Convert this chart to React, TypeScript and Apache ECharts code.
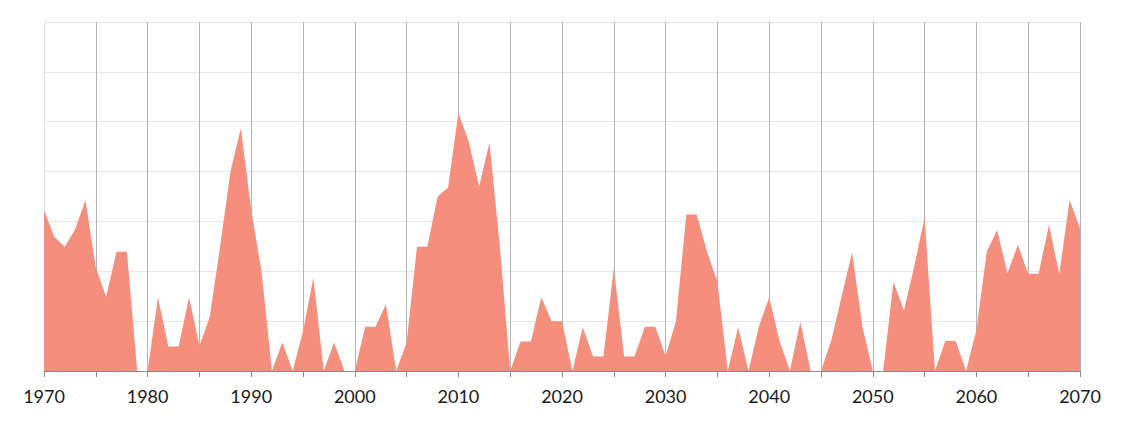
import React, { useEffect, useRef } from "react";
import * as echarts from "echarts";

const startYear = 1970;
const endYear = 2070;
const years: string[] = [];
for (let y = startYear; y <= endYear; y++) years.push(String(y));

const values: number[] = [
  // 1970-1979
  32.3, 26.9, 24.9, 28.4, 34.3, 20.7, 14.9, 23.9, 23.9, 0,
  // 1980-1989
  0, 14.8, 4.9, 4.9, 14.8, 5, 10.9, 25, 40, 48.7,
  // 1990-1999
  32.3, 19.9, 0, 5.7, 0, 7.9, 18.7, 0, 5.7, 0,
  // 2000-2009
  0, 8.9, 8.9, 13.4, 0, 5.7, 24.9, 24.9, 35, 36.8,
  // 2010-2019
  51.8, 46, 37, 45.8, 25, 0, 5.9, 5.9, 14.8, 10,
  // 2020-2029
  10, 0, 8.8, 2.9, 2.9, 20.6, 2.9, 2.9, 8.9, 8.9,
  // 2030-2039
  3, 10, 31.4, 31.4, 23.9, 17.9, 0, 8.8, 0, 8.9,
  // 2040-2049
  14.8, 6, 0, 9.9, 0, 0, 6.2, 15, 23.8, 8.9,
  // 2050-2059
  0, 0, 17.9, 12.1, 21, 30.8, 0, 6, 6, 0,
  // 2060-2070
  8.2, 23.9, 28.3, 19.6, 25.3, 19.5, 19.5, 29.3, 19.5, 34.3, 28.6,
];

const yMax = 70;
const yStep = 10;

export default function App() {
  const ref = useRef<HTMLDivElement>(null);
  useEffect(() => {
    document.body.style.margin = "0";
    if (!ref.current) return;
    const chart = echarts.init(ref.current, undefined, { renderer: "svg" });
    const splitColors: string[] = [];
    for (let i = 0; i < 21; i++) splitColors.push(i === 0 ? "#e3e3e3" : "#b4b4b4");
    chart.setOption({
      animation: false,
      backgroundColor: "#ffffff",
      grid: { left: 44, right: 43, top: 22, bottom: 52, containLabel: false },
      xAxis: {
        type: "category",
        data: years,
        boundaryGap: false,
        axisLine: { show: true, lineStyle: { color: "#8a8a8a", width: 1 } },
        axisTick: { show: true, interval: 4, length: 6, lineStyle: { color: "#8a8a8a" } },
        axisLabel: {
          interval: 9,
          color: "#1a1a1a",
          fontFamily: "Lato",
          fontSize: 18,
          margin: 16,
        },
        splitLine: { show: true, interval: 4, lineStyle: { color: splitColors, width: 1 } },
      },
      yAxis: {
        type: "value",
        min: 0,
        max: yMax,
        interval: yStep,
        axisLine: { show: false },
        axisTick: { show: false },
        axisLabel: { show: false },
        splitLine: { show: true, lineStyle: { color: "#e6e6e6", width: 1 } },
      },
      series: [
        {
          type: "line",
          data: values,
          symbol: "none",
          lineStyle: { width: 0 },
          areaStyle: { color: "#f68e7d", opacity: 1 },
          itemStyle: { color: "#f68e7d" },
        },
      ],
    });
    return () => chart.dispose();
  }, []);
  return <div ref={ref} style={{ width: 1123, height: 423 }} />;
}
